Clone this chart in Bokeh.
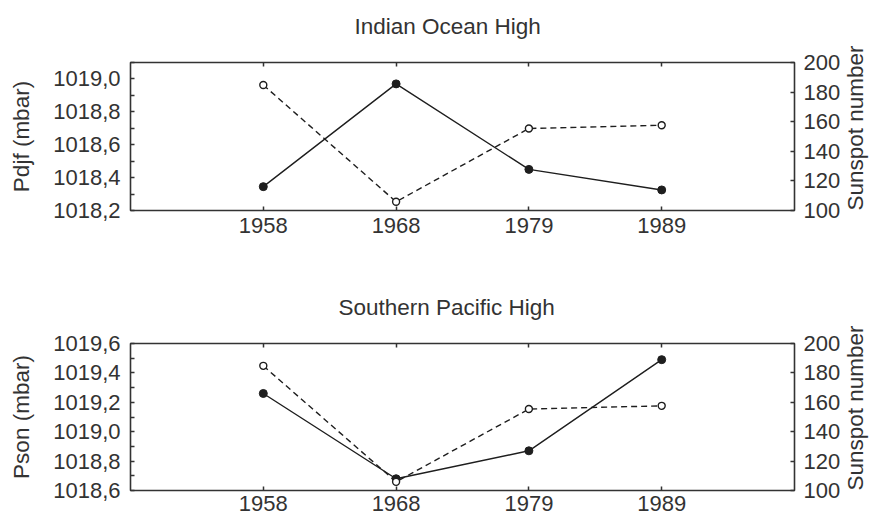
import math
from bokeh.plotting import figure
from bokeh.models import Range1d, LinearAxis, FixedTicker, Title
from bokeh.layouts import column
from bokeh.embed import file_html
from bokeh.resources import INLINE

# ---- data ----
years = ["1958", "1968", "1979", "1989"]
pdjf = [1018.345, 1018.97, 1018.45, 1018.325]
pson = [1019.26, 1018.68, 1018.87, 1019.49]
sunspot = [184.8, 105.9, 155.4, 157.6]

pdjf_ticks = [1018.2, 1018.4, 1018.6, 1018.8, 1019.0]
pdjf_tick_labels = ["1018,2", "1018,4", "1018,6", "1018,8", "1019,0"]
pdjf_minor = [1018.3, 1018.5, 1018.7, 1018.9, 1019.1]

pson_ticks = [1018.6, 1018.8, 1019.0, 1019.2, 1019.4, 1019.6]
pson_tick_labels = ["1018,6", "1018,8", "1019,0", "1019,2", "1019,4", "1019,6"]
pson_minor = [1018.7, 1018.9, 1019.1, 1019.3, 1019.5]

sun_ticks = [100, 120, 140, 160, 180, 200]
sun_label = "Sunspot number"

FONT = "Liberation Sans"
TXT = "#333333"
LINE = "#1e1e1e"
FRAME = "#333333"

x_idx = list(range(len(years)))


def style_axis(ax, standoff=8):
    ax.axis_line_color = None
    ax.major_tick_in = 4
    ax.major_tick_out = 0
    ax.minor_tick_in = 4
    ax.minor_tick_out = 0
    ax.major_tick_line_color = FRAME
    ax.minor_tick_line_color = FRAME
    ax.major_tick_line_width = 1.5
    ax.minor_tick_line_width = 1.5
    ax.major_label_text_font = FONT
    ax.major_label_text_font_size = "22px"
    ax.major_label_text_color = TXT
    ax.major_label_standoff = standoff
    ax.axis_label_text_font = FONT
    ax.axis_label_text_font_size = "22.5px"
    ax.axis_label_text_font_style = "normal"
    ax.axis_label_text_color = TXT


def make_panel(title, ylabel, yvals, yrange, yticks, ylabels, yminor,
               height, btop, bbottom, xstandoff, title_offset):
    p = figure(width=883, height=height, output_backend="svg",
               toolbar_location=None, title=None,
               x_range=Range1d(-1, 4), y_range=Range1d(*yrange),
               min_border_left=130, min_border_right=84,
               min_border_top=btop, min_border_bottom=bbottom)
    p.extra_y_ranges = {"sun": Range1d(100, 200)}
    p.xgrid.visible = False
    p.ygrid.visible = False
    p.outline_line_color = FRAME
    p.outline_line_width = 1.6
    p.outline_line_alpha = 1.0
    p.background_fill_color = "white"
    p.border_fill_color = "white"

    # bottom axis
    xa = p.xaxis[0]
    xa.ticker = FixedTicker(ticks=x_idx, minor_ticks=[])
    xa.major_label_overrides = {i: y for i, y in zip(x_idx, years)}
    style_axis(xa, standoff=xstandoff)

    # left axis
    ya = p.yaxis[0]
    ya.ticker = FixedTicker(ticks=yticks, minor_ticks=yminor)
    ya.major_label_overrides = {t: s for t, s in zip(yticks, ylabels)}
    style_axis(ya, standoff=10)
    ya.axis_label = ylabel
    ya.axis_label_standoff = 16

    # right axis (sunspot scale), title reading bottom-to-top
    ra = LinearAxis(y_range_name="sun",
                    ticker=FixedTicker(ticks=sun_ticks, minor_ticks=[]))
    style_axis(ra, standoff=9)
    ra.axis_label = sun_label
    ra.axis_label_standoff = 12
    ra.axis_label_orientation = math.pi / 2
    if "axis_label_align" in ra.properties():
        ra.axis_label_align = "start"
    p.add_layout(ra, "right")

    # top axis (ticks only)
    ta = LinearAxis(ticker=FixedTicker(ticks=x_idx, minor_ticks=[]))
    style_axis(ta, standoff=0)
    ta.major_label_overrides = {i: "" for i in x_idx}
    p.add_layout(ta, "above")

    # small spacer between frame and title
    p.add_layout(Title(text=" ", text_font_size="8px", standoff=13), "above")

    p.add_layout(Title(text=title, align="left", offset=title_offset,
                       text_font=FONT, text_font_size="22.5px",
                       text_font_style="normal", text_color=TXT,
                       standoff=0), "above")

    p.line(x_idx, yvals, line_color=LINE, line_width=1.4)
    p.scatter(x_idx, yvals, marker="circle", size=8,
              fill_color=LINE, line_color=LINE)
    p.line(x_idx, sunspot, y_range_name="sun", line_color=LINE,
           line_width=1.4, line_dash="6 4")
    p.scatter(x_idx, sunspot, y_range_name="sun", marker="circle", size=7,
              fill_color="white", line_color=LINE, line_width=1.4)
    return p


p1 = make_panel("Indian Ocean High", "Pdjf (mbar)", pdjf, (1018.2, 1019.1),
                pdjf_ticks, pdjf_tick_labels, pdjf_minor,
                250, 62, 40, 7, 224)
p2 = make_panel("Southern Pacific High", "Pson (mbar)", pson, (1018.6, 1019.6),
                pson_ticks, pson_tick_labels, pson_minor,
                270, 93, 30, 5, 208)

layout = column(p1, p2, spacing=0)
open("out.html", "w").write(file_html(layout, INLINE))
